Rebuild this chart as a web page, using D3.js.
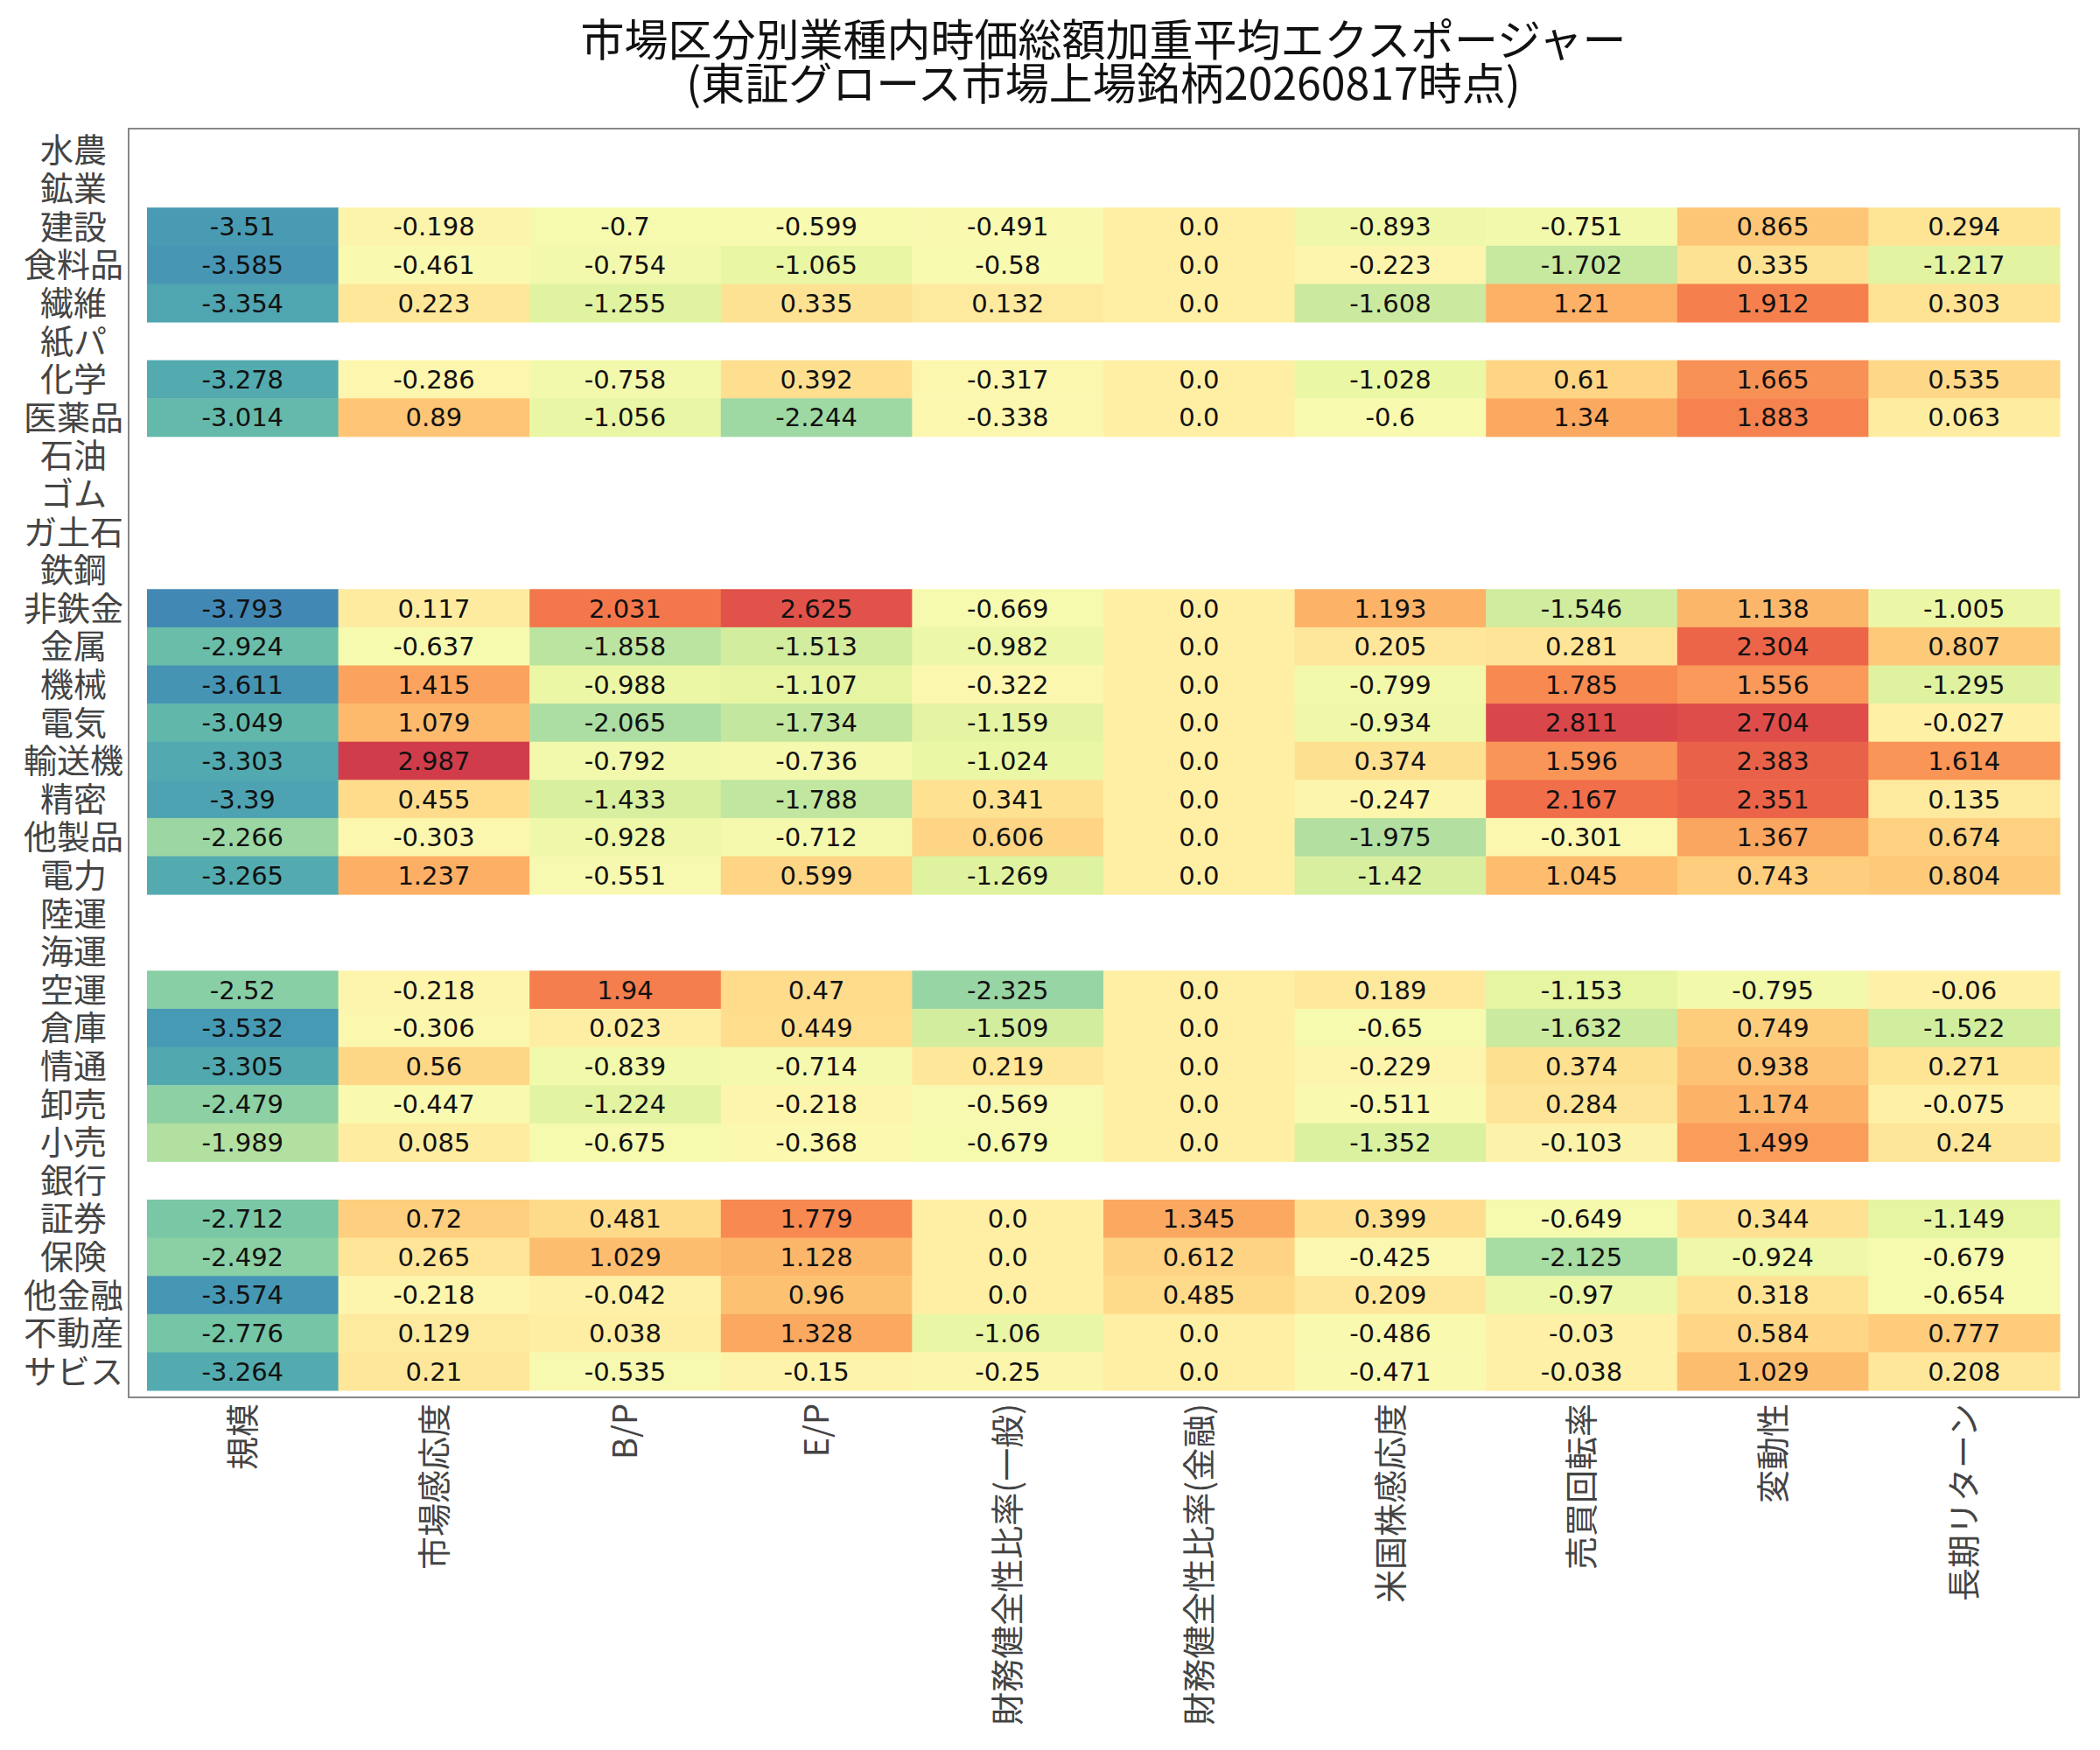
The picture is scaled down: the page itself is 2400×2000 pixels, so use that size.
<!DOCTYPE html>
<html><head><meta charset="utf-8">
<script src="https://cdn.jsdelivr.net/npm/d3@7"></script>
<style>body{margin:0;background:#fff}</style></head>
<body><svg id="c" width="2400" height="2000"></svg>
<script>
const rows=["水農","鉱業","建設","食料品","繊維","紙パ","化学","医薬品","石油","ゴム","ガ土石","鉄鋼","非鉄金","金属","機械","電気","輸送機","精密","他製品","電力","陸運","海運","空運","倉庫","情通","卸売","小売","銀行","証券","保険","他金融","不動産","サビス"];
const cols=["規模","市場感応度","B/P","E/P","財務健全性比率(一般)","財務健全性比率(金融)","米国株感応度","売買回転率","変動性","長期リターン"];
const values={
"建設":[-3.51,-0.198,-0.7,-0.599,-0.491,0.0,-0.893,-0.751,0.865,0.294],
"食料品":[-3.585,-0.461,-0.754,-1.065,-0.58,0.0,-0.223,-1.702,0.335,-1.217],
"繊維":[-3.354,0.223,-1.255,0.335,0.132,0.0,-1.608,1.21,1.912,0.303],
"化学":[-3.278,-0.286,-0.758,0.392,-0.317,0.0,-1.028,0.61,1.665,0.535],
"医薬品":[-3.014,0.89,-1.056,-2.244,-0.338,0.0,-0.6,1.34,1.883,0.063],
"非鉄金":[-3.793,0.117,2.031,2.625,-0.669,0.0,1.193,-1.546,1.138,-1.005],
"金属":[-2.924,-0.637,-1.858,-1.513,-0.982,0.0,0.205,0.281,2.304,0.807],
"機械":[-3.611,1.415,-0.988,-1.107,-0.322,0.0,-0.799,1.785,1.556,-1.295],
"電気":[-3.049,1.079,-2.065,-1.734,-1.159,0.0,-0.934,2.811,2.704,-0.027],
"輸送機":[-3.303,2.987,-0.792,-0.736,-1.024,0.0,0.374,1.596,2.383,1.614],
"精密":[-3.39,0.455,-1.433,-1.788,0.341,0.0,-0.247,2.167,2.351,0.135],
"他製品":[-2.266,-0.303,-0.928,-0.712,0.606,0.0,-1.975,-0.301,1.367,0.674],
"電力":[-3.265,1.237,-0.551,0.599,-1.269,0.0,-1.42,1.045,0.743,0.804],
"空運":[-2.52,-0.218,1.94,0.47,-2.325,0.0,0.189,-1.153,-0.795,-0.06],
"倉庫":[-3.532,-0.306,0.023,0.449,-1.509,0.0,-0.65,-1.632,0.749,-1.522],
"情通":[-3.305,0.56,-0.839,-0.714,0.219,0.0,-0.229,0.374,0.938,0.271],
"卸売":[-2.479,-0.447,-1.224,-0.218,-0.569,0.0,-0.511,0.284,1.174,-0.075],
"小売":[-1.989,0.085,-0.675,-0.368,-0.679,0.0,-1.352,-0.103,1.499,0.24],
"証券":[-2.712,0.72,0.481,1.779,0.0,1.345,0.399,-0.649,0.344,-1.149],
"保険":[-2.492,0.265,1.029,1.128,0.0,0.612,-0.425,-2.125,-0.924,-0.679],
"他金融":[-3.574,-0.218,-0.042,0.96,0.0,0.485,0.209,-0.97,0.318,-0.654],
"不動産":[-2.776,0.129,0.038,1.328,-1.06,0.0,-0.486,-0.03,0.584,0.777],
"サビス":[-3.264,0.21,-0.535,-0.15,-0.25,0.0,-0.471,-0.038,1.029,0.208]
};
const titleLines=["市場区分別業種内時価総額加重平均エクスポージャー","(東証グロース市場上場銘柄20260817時点)"];

const svg=d3.select("#c");
const fL=147,fT=147,fR=2376,fB=1597;
const x=d3.scaleBand().domain(cols).range([168,2354]);
const y=d3.scaleBand().domain(rows).range([150,1589]);
const cells=[];
for(const r of rows){ if(values[r]) values[r].forEach((v,i)=>cells.push({r,c:cols[i],v})); }
const all=cells.map(d=>d.v);
const mn=d3.min(all),mx=d3.max(all);
const tScale=d3.scaleLinear().domain([mn,mx]).range([0.9,0.1]);
const color=v=>d3.interpolateSpectral(tScale(v));

svg.append("rect").attr("x",fL).attr("y",fT).attr("width",fR-fL).attr("height",fB-fT)
 .attr("fill","none").attr("stroke","#888").attr("stroke-width",2);
const g=svg.append("g");
g.selectAll("rect.cell").data(cells).join("rect").attr("class","cell")
 .attr("x",d=>x(d.c)).attr("y",d=>y(d.r)).attr("width",x.bandwidth()+0.5).attr("height",y.bandwidth()+0.5)
 .attr("fill",d=>color(d.v));
g.selectAll("text.v").data(cells).join("text").attr("class","v")
 .attr("x",d=>x(d.c)+x.bandwidth()/2).attr("y",d=>y(d.r)+y.bandwidth()/2)
 .attr("dy","0.36em").attr("text-anchor","middle")
 .attr("font-family","DejaVu Sans").attr("font-size",29).attr("fill","#111")
 .text(d=>Number.isInteger(d.v)?d.v.toFixed(1):String(d.v));

svg.append("g").selectAll("text").data(rows).join("text")
 .attr("x",84).attr("y",d=>y(d)+y.bandwidth()/2).attr("dy","0.36em")
 .attr("text-anchor","middle").attr("font-family","Noto Sans CJK JP").attr("font-size",38).attr("fill","#444")
 .text(d=>d);

svg.append("g").selectAll("text").data(cols).join("text")
 .attr("transform",d=>`translate(${x(d)+x.bandwidth()/2},1604) rotate(-90)`)
 .attr("dy","0.36em").attr("text-anchor","end")
 .attr("font-family","Noto Sans CJK JP").attr("font-size",38).attr("fill","#444")
 .text(d=>d);

svg.append("g").selectAll("text").data(titleLines).join("text")
 .attr("x",1261).attr("y",(d,i)=>46+i*50).attr("dy","0.36em").attr("text-anchor","middle")
 .attr("font-family","Noto Sans CJK JP").attr("font-size",50).attr("fill","#111")
 .text(d=>d);
</script></body></html>
